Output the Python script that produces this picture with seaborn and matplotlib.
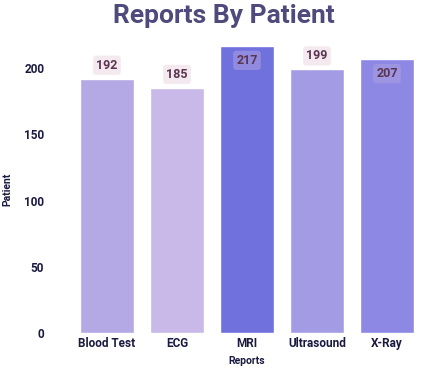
import pandas as pd
import seaborn as sns
import matplotlib.pyplot as plt

reports = ["Blood Test", "ECG", "MRI", "Ultrasound", "X-Ray"]
patients = [192, 185, 217, 199, 207]
colors = ["#b4a9e4", "#c9b9e8", "#7171de", "#a39ce5", "#8e88e5"]

df = pd.DataFrame({"Reports": reports, "Patient": patients})

sns.set_theme(style="white")
plt.rcParams["font.family"] = ["Roboto", "DejaVu Sans"]

fig = plt.figure(figsize=(4.47, 3.7), dpi=100)
ax = fig.add_axes([0.161, 0.1, 0.783, 0.777])
sns.barplot(data=df, x="Reports", y="Patient", hue="Reports", palette=colors,
            width=0.77, saturation=1, legend=False, ax=ax)

ax.set_ylim(0, 217)
ax.set_xlim(-0.5, 4.5)
ax.set_yticks([0, 50, 100, 150, 200])
sns.despine(ax=ax, left=True, bottom=True)
ax.tick_params(length=0, colors="#1a1a40", labelsize=8.5)
ax.tick_params(axis="y", pad=20)
ax.tick_params(axis="x", pad=3)
for t in ax.get_xticklabels() + ax.get_yticklabels():
    t.set_fontweight("bold")
ax.set_xlabel("Reports", fontsize=7.5, fontweight="bold", color="#1a1a40", labelpad=4)
ax.set_ylabel("Patient", fontsize=7.5, fontweight="bold", color="#1a1a40")
ax.yaxis.set_label_coords(-0.17, 0.5)

for i, v in enumerate(patients):
    if v > 200:
        y, va, off = v, "top", -6
        box = dict(boxstyle="round,pad=0.25", fc="#a89ee0", ec="none", alpha=0.6)
    else:
        y, va, off = v, "bottom", 5
        box = dict(boxstyle="round,pad=0.25", fc="#f4e9ef", ec="none")
    ax.annotate(str(v), (i, y), xytext=(0, off), textcoords="offset points",
                ha="center", va=va, fontsize=9, fontweight="bold",
                color="#5a3550", bbox=box)

fig.suptitle("Reports By Patient", fontsize=19, fontweight="bold",
             color="#4f4a7c", y=0.99)
fig.savefig("out.png", dpi=100)
